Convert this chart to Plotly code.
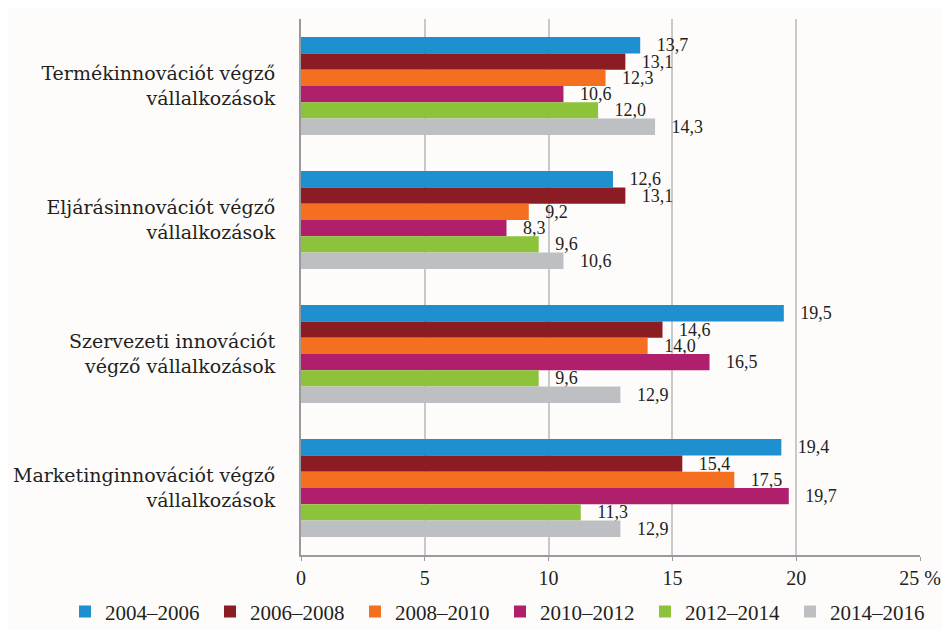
import plotly.graph_objects as go

categories = [
    "Termékinnovációt végző<br>vállalkozások",
    "Eljárásinnovációt végző<br>vállalkozások",
    "Szervezeti innovációt<br>végző vállalkozások",
    "Marketinginnovációt végző<br>vállalkozások",
]
periods = ["2004–2006", "2006–2008", "2008–2010", "2010–2012", "2012–2014", "2014–2016"]
colors = ["#1e90d0", "#8c1c24", "#f47020", "#b01f6c", "#8dc33b", "#bdbfc2"]

v_2004_2006 = [13.7, 12.6, 19.5, 19.4]
v_2006_2008 = [13.1, 13.1, 14.6, 15.4]
v_2008_2010 = [12.3, 9.2, 14.0, 17.5]
v_2010_2012 = [10.6, 8.3, 16.5, 19.7]
v_2012_2014 = [12.0, 9.6, 9.6, 11.3]
v_2014_2016 = [14.3, 10.6, 12.9, 12.9]
series = [v_2004_2006, v_2006_2008, v_2008_2010, v_2010_2012, v_2012_2014, v_2014_2016]

tick_vals = [0, 5, 10, 15, 20, 25]
tick_text = ["0", "5", "10", "15", "20", "25 %"]

serif = "Liberation Serif"
serif_wide = "DejaVu Serif"
ink = "#231f20"

fig = go.Figure()
for name, vals, col in zip(periods, series, colors):
    fig.add_trace(go.Bar(
        y=categories,
        x=vals,
        name=name,
        orientation="h",
        marker=dict(color=col, line=dict(width=0)),
        # a little gap between bar end and the value, as in the original
        text=["\u00a0\u00a0\u00a0" + f"{v:.1f}".replace(".", ",") for v in vals],
        textposition="outside",
        constraintext="none",
        textfont=dict(family=serif, size=18, color=ink),
        cliponaxis=False,
    ))

fig.update_layout(
    width=950,
    height=630,
    paper_bgcolor="#fdfcfb",
    plot_bgcolor="#fdfcfb",
    barmode="group",
    bargap=0.27,
    bargroupgap=0,
    margin=dict(l=293, r=38, t=11, b=83, autoexpand=False),
    font=dict(family=serif, size=18, color=ink),
    legend=dict(
        orientation="h",
        x=(57 - 293) / 619, xanchor="left",
        y=-0.106, yanchor="middle",
        font=dict(family=serif, size=21, color=ink),
        traceorder="normal",
        itemwidth=30,
        entrywidth=100,
    ),
    xaxis=dict(
        range=[0, 25],
        tickvals=tick_vals,
        ticktext=tick_text,
        showgrid=True,
        gridcolor="#c9c9cb",
        gridwidth=2,
        showline=True,
        linecolor="#9a9a9c",
        linewidth=1.5,
        ticks="outside",
        ticklen=4,
        tickcolor="#9a9a9c",
        zeroline=False,
        tickfont=dict(family=serif, size=20, color=ink),
    ),
    yaxis=dict(
        autorange="reversed",
        showline=True,
        linecolor="#9a9a9c",
        linewidth=2,
        ticks="",
        ticklabelstandoff=20,
        tickfont=dict(family=serif_wide, size=19, color=ink),
    ),
)

fig.write_html("out.html")
